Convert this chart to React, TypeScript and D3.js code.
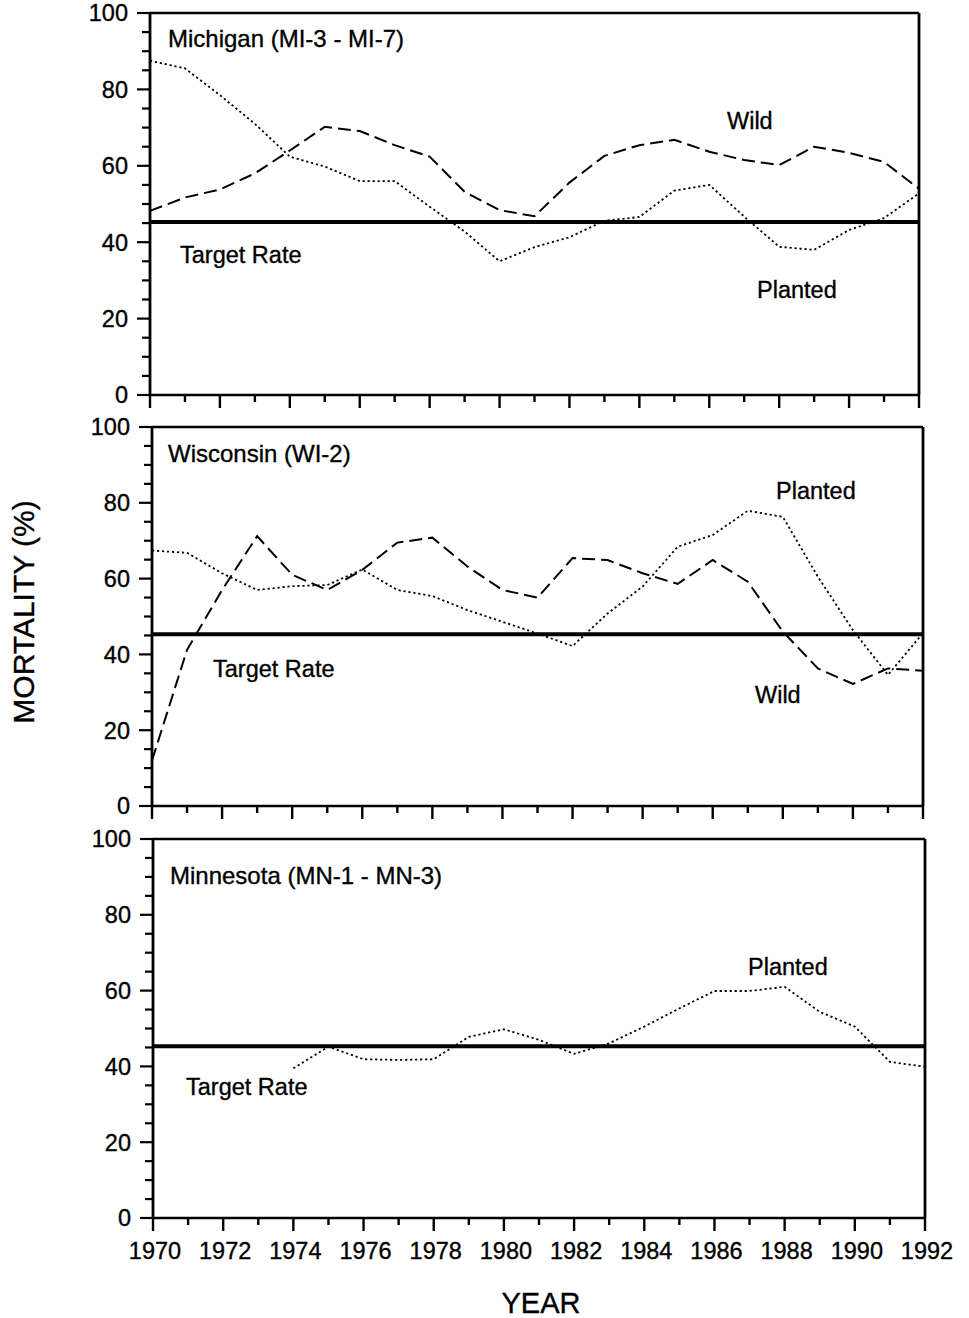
import React from "react";
import * as d3 from "d3";

const years = d3.range(1970, 1993);
const xTickYears = d3.range(1970, 1993, 2);
const yTickValues = [0, 20, 40, 60, 80, 100];
const targetRate = 45.3;

const michiganPlanted = [87.5, 85.5, 78.5, 71, 62.4, 59.8, 56, 56, 49.3, 42.8, 35, 38.7, 41.3, 45.6, 46.6, 53.5, 55, 46.7, 38.8, 38, 43.2, 46.3, 52.8];
const michiganWild = [48.2, 51.7, 53.8, 58, 64, 70.2, 69.1, 65.4, 62.4, 53.2, 48.4, 46.8, 55.6, 62.6, 65.4, 66.8, 63.7, 61.5, 60.2, 65, 63.4, 61, 54];

const wisconsinPlanted = [67.4, 66.8, 61.4, 57, 58, 58.3, 62.4, 57, 55.4, 51.7, 48.6, 45.5, 42.2, 50.8, 57.9, 68.4, 71.5, 77.9, 76.3, 60.5, 46.4, 34.6, 45.6];
const wisconsinWild = [12, 41.2, 57, 71.2, 61, 57, 62.3, 69.5, 70.8, 63.2, 57, 55, 65.4, 64.9, 61.4, 58.6, 64.9, 59.2, 46, 36.3, 32.2, 36.3, 35.7];

const minnesotaYears = d3.range(1974, 1993);
const minnesotaPlanted = [39.5, 45.2, 41.9, 41.7, 41.9, 47.8, 49.8, 47, 43.3, 46.1, 50.5, 55.3, 59.9, 59.9, 61, 54.4, 50.5, 41.2, 39.9];

const panelTitles = ["Michigan (MI-3 - MI-7)", "Wisconsin (WI-2)", "Minnesota (MN-1 - MN-3)"];

type Series = { xs: number[]; ys: number[]; kind: "planted" | "wild" };
type Label = { text: string; x: number; y: number };

const FONT = "'Liberation Sans', Arial, Helvetica, sans-serif";
const TXT = { fontFamily: FONT, fill: "#000", stroke: "#000", strokeWidth: 0.35 };

const panels: {
  left: number; right: number; top: number; bottom: number;
  title: string; titlePos: [number, number];
  series: Series[];
  labels: Label[];
  showX: boolean;
}[] = [
  {
    left: 150, right: 919, top: 13, bottom: 395,
    title: panelTitles[0], titlePos: [168, 47],
    series: [
      { xs: years, ys: michiganPlanted, kind: "planted" },
      { xs: years, ys: michiganWild, kind: "wild" },
    ],
    labels: [
      { text: "Target Rate", x: 180, y: 263 },
      { text: "Wild", x: 727, y: 129 },
      { text: "Planted", x: 757, y: 298 },
    ],
    showX: false,
  },
  {
    left: 152, right: 923, top: 427, bottom: 806,
    title: panelTitles[1], titlePos: [168, 462],
    series: [
      { xs: years, ys: wisconsinPlanted, kind: "planted" },
      { xs: years, ys: wisconsinWild, kind: "wild" },
    ],
    labels: [
      { text: "Target Rate", x: 213, y: 677 },
      { text: "Planted", x: 776, y: 499 },
      { text: "Wild", x: 755, y: 703 },
    ],
    showX: false,
  },
  {
    left: 153, right: 925, top: 839, bottom: 1218,
    title: panelTitles[2], titlePos: [170, 884],
    series: [{ xs: minnesotaYears, ys: minnesotaPlanted, kind: "planted" }],
    labels: [
      { text: "Target Rate", x: 186, y: 1095 },
      { text: "Planted", x: 748, y: 975 },
    ],
    showX: true,
  },
];

function Panel({ p }: { p: (typeof panels)[number] }) {
  const x = d3.scaleLinear().domain([1970, 1992]).range([p.left, p.right]);
  const y = d3.scaleLinear().domain([0, 100]).range([p.bottom, p.top]);
  const line = d3.line<[number, number]>().x((d) => x(d[0])).y((d) => y(d[1]));
  const minorY = d3.range(0, 101, 5);
  return (
    <g>
      {p.series.map((s, i) => (
        <path
          key={i}
          d={line(s.xs.map((yr, j) => [yr, s.ys[j]] as [number, number])) || ""}
          fill="none"
          stroke="#000"
          strokeWidth={s.kind === "planted" ? 1.8 : 2}
          strokeDasharray={s.kind === "planted" ? "2.2,2.8" : "13,6"}
        />
      ))}
      <line x1={x(1970)} x2={x(1992)} y1={y(targetRate)} y2={y(targetRate)} stroke="#000" strokeWidth={4} />
      <line x1={p.left} x2={p.right} y1={p.top} y2={p.top} stroke="#000" strokeWidth={2.4} />
      <line x1={p.right} x2={p.right} y1={p.top} y2={p.bottom} stroke="#000" strokeWidth={2.8} />
      <line x1={p.left} x2={p.right} y1={p.bottom} y2={p.bottom} stroke="#000" strokeWidth={2.6} />
      <line x1={p.left} x2={p.left} y1={p.top} y2={p.bottom} stroke="#000" strokeWidth={2.8} />
      {years.map((yr) => {
        const major = (yr - 1970) % 2 === 0;
        return (
          <line key={yr} x1={x(yr)} x2={x(yr)} y1={p.bottom} y2={p.bottom + (major ? 13 : 7)} stroke="#000" strokeWidth={2.4} />
        );
      })}
      {minorY.map((v) => {
        const major = v % 20 === 0;
        return (
          <line key={v} x1={p.left - (major ? 13 : 8)} x2={p.left} y1={y(v)} y2={y(v)} stroke="#000" strokeWidth={2.2} />
        );
      })}
      {yTickValues.map((v) => (
        <text key={v} x={p.left - 22} y={y(v)} dy="0.36em" textAnchor="end" fontSize={23.5} {...TXT}>
          {v}
        </text>
      ))}
      {p.showX &&
        xTickYears.map((yr) => (
          <text key={yr} x={x(yr) + 2} y={p.bottom + 41} textAnchor="middle" fontSize={23.5} {...TXT}>
            {yr}
          </text>
        ))}
      <text x={p.titlePos[0]} y={p.titlePos[1]} fontSize={24} {...TXT}>
        {p.title}
      </text>
      {p.labels.map((l, i) => (
        <text key={i} x={l.x} y={l.y} fontSize={23.5} {...TXT}>
          {l.text}
        </text>
      ))}
    </g>
  );
}

export default function App() {
  return (
    <svg
      width={969}
      height={1318}
      viewBox="0 0 969 1318"
      style={{ position: "absolute", left: 0, top: 0, background: "#fff" }}
    >
      <rect width={969} height={1318} fill="#fff" />
      {panels.map((p, i) => (
        <Panel key={i} p={p} />
      ))}
      <text transform="translate(34,612) rotate(-90)" textAnchor="middle" fontSize={30} {...TXT}>
        MORTALITY (%)
      </text>
      <text x={541} y={1313} textAnchor="middle" fontSize={29} {...TXT}>
        YEAR
      </text>
    </svg>
  );
}
